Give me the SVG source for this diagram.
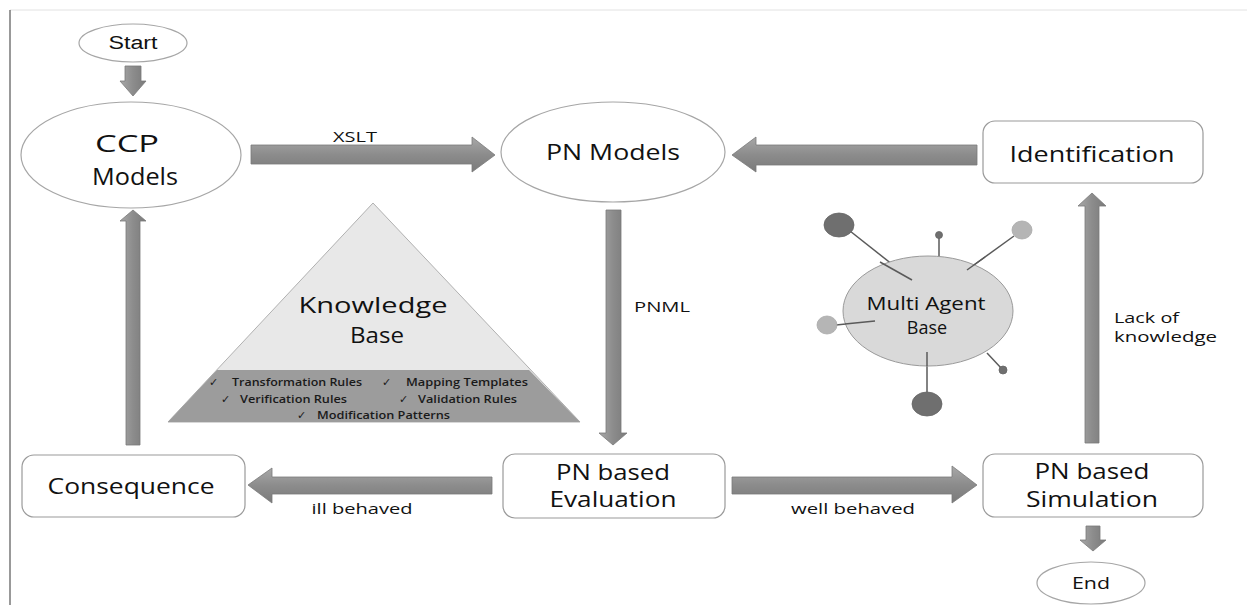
<svg xmlns="http://www.w3.org/2000/svg" width="1247" height="605" viewBox="0 0 1247 605">
  <defs>
    <linearGradient id="gradH" x1="0" y1="0" x2="0" y2="1">
      <stop offset="0" stop-color="#a8a8a8"/>
      <stop offset="0.5" stop-color="#8c8c8c"/>
      <stop offset="1" stop-color="#7a7a7a"/>
    </linearGradient>
    <linearGradient id="gradV" x1="0" y1="0" x2="1" y2="0">
      <stop offset="0" stop-color="#a8a8a8"/>
      <stop offset="0.5" stop-color="#8c8c8c"/>
      <stop offset="1" stop-color="#7a7a7a"/>
    </linearGradient>
  </defs>
  <style>
    .term { fill: #ffffff; stroke: #a6a6a6; stroke-width: 1.2; }
    .box { fill: #ffffff; stroke: #9a9a9a; stroke-width: 1.2; }
    .lbl { font-family: "Open Sans", "DejaVu Sans", sans-serif; font-weight: 500; fill: #111111; text-anchor: middle; }
    .small { font-size: 15px; }
    .left { text-anchor: start; }
    .arrH { fill: url(#gradH); stroke: #7a7a7a; stroke-width: 0.8; }
    .arrV { fill: url(#gradV); stroke: #7a7a7a; stroke-width: 0.8; }
    .kb { font-family: "Open Sans", "DejaVu Sans", sans-serif; font-size: 11px; font-weight: 600; fill: #1a1a1a; }
    .chk { font-family: "DejaVu Sans", sans-serif; font-size: 11px; fill: #1a1a1a; }
    .spoke { stroke: #5a5a5a; stroke-width: 1.5; }
    .dark { fill: #6f6f6f; stroke: #666; stroke-width: 0.8; }
    .light { fill: #b5b5b5; stroke: #aaa; stroke-width: 0.8; }
  </style>

  <rect width="1247" height="605" fill="#ffffff"/>

  <!-- frame edges -->
  <line x1="10" y1="10" x2="1247" y2="10" stroke="#e2e2e2" stroke-width="1"/>
  <line x1="10" y1="10" x2="10" y2="605" stroke="#555555" stroke-width="1.2"/>

  <!-- knowledge base pyramid -->
  <g id="knowledge-base">
    <polygon points="373,203 580,422 168,422" fill="#e8e8e8" stroke="#b0b0b0" stroke-width="1"/>
    <polygon points="217,370 529,370 580,422 168,422" fill="#9c9c9c"/>
    <text class="lbl" x="373" y="313" font-size="22" font-weight="600" textLength="149" lengthAdjust="spacingAndGlyphs">Knowledge</text>
    <text class="lbl" x="377" y="343" font-size="22" font-weight="600" textLength="54" lengthAdjust="spacingAndGlyphs">Base</text>
    <text class="chk" x="209" y="386">✓</text>
    <text class="kb" x="232" y="386" textLength="130" lengthAdjust="spacingAndGlyphs">Transformation Rules</text>
    <text class="chk" x="382" y="386">✓</text>
    <text class="kb" x="406" y="386" textLength="122" lengthAdjust="spacingAndGlyphs">Mapping Templates</text>
    <text class="chk" x="221" y="403">✓</text>
    <text class="kb" x="240" y="403" textLength="107" lengthAdjust="spacingAndGlyphs">Verification Rules</text>
    <text class="chk" x="399" y="403">✓</text>
    <text class="kb" x="418" y="403" textLength="99" lengthAdjust="spacingAndGlyphs">Validation Rules</text>
    <text class="chk" x="297" y="419">✓</text>
    <text class="kb" x="317" y="419" textLength="133" lengthAdjust="spacingAndGlyphs">Modification Patterns</text>
  </g>

  <!-- multi agent base with its agents -->
  <g id="multi-agent-base">
    <line class="spoke" x1="850" y1="231" x2="912" y2="280"/>
    <line class="spoke" x1="939" y1="237" x2="939" y2="257"/>
    <line class="spoke" x1="1014" y1="236" x2="967" y2="270"/>
    <line class="spoke" x1="836" y1="325" x2="875" y2="321"/>
    <line class="spoke" x1="927" y1="350" x2="927" y2="392"/>
    <line class="spoke" x1="987" y1="353" x2="1002" y2="369"/>
    <ellipse cx="928" cy="311" rx="85" ry="55" fill="#d9d9d9" stroke="#9a9a9a" stroke-width="1"/>
    <line class="spoke" x1="880" y1="262" x2="912" y2="280"/>
    <line class="spoke" x1="985" y1="257" x2="967" y2="270"/>
    <line class="spoke" x1="845" y1="324" x2="875" y2="321"/>
    <line class="spoke" x1="927" y1="352" x2="927" y2="366"/>
    <ellipse class="dark" cx="839" cy="225" rx="15" ry="12"/>
    <circle class="dark" cx="939" cy="235" r="3.5"/>
    <ellipse class="light" cx="1022" cy="230" rx="10" ry="9"/>
    <ellipse class="light" cx="827" cy="325" rx="10" ry="9"/>
    <ellipse class="dark" cx="927" cy="404" rx="15" ry="12"/>
    <circle class="dark" cx="1003" cy="370" r="4"/>
    <text class="lbl" x="926" y="310" font-size="18" textLength="119" lengthAdjust="spacingAndGlyphs">Multi Agent</text>
    <text class="lbl" x="927" y="334" font-size="18">Base</text>
  </g>

  <!-- flow arrows -->
  <g id="connectors">
    <!-- Start -> CCP Models -->
    <polygon class="arrV" points="125,66 141,66 141,81 146,81 133,96 120,81 125,81"/>
    <!-- CCP Models -> PN Models (XSLT) -->
    <polygon class="arrH" points="251,145 472,145 472,137 495,155 472,172 472,164 251,164"/>
    <text class="lbl small" x="355" y="142" textLength="44" lengthAdjust="spacingAndGlyphs">XSLT</text>
    <!-- Identification -> PN Models -->
    <polygon class="arrH" points="977,145 756,145 756,137 732,155 756,172 756,165 977,165"/>
    <!-- PN Models -> Evaluation (PNML) -->
    <polygon class="arrV" points="606,210 621,210 621,433 627,433 613,445 599,433 606,433"/>
    <text class="lbl small" x="662" y="312" textLength="56" lengthAdjust="spacingAndGlyphs">PNML</text>
    <!-- Evaluation -> Consequence (ill behaved) -->
    <polygon class="arrH" points="492,477 272,477 272,468 248,485 272,503 272,494 492,494"/>
    <text class="lbl small" x="362" y="514" textLength="101" lengthAdjust="spacingAndGlyphs">ill behaved</text>
    <!-- Evaluation -> Simulation (well behaved) -->
    <polygon class="arrH" points="732,477 952,477 952,466 977,485 952,503 952,494 732,494"/>
    <text class="lbl small" x="853" y="514" textLength="124" lengthAdjust="spacingAndGlyphs">well behaved</text>
    <!-- Consequence -> CCP Models -->
    <polygon class="arrV" points="126,445 140,445 140,221 146,221 133,210 120,221 126,221"/>
    <!-- Simulation -> Identification (Lack of knowledge) -->
    <polygon class="arrV" points="1085,443 1099,443 1099,206 1106,206 1092,193 1078,206 1085,206"/>
    <text class="lbl small left" x="1114" y="323" textLength="65" lengthAdjust="spacingAndGlyphs">Lack of</text>
    <text class="lbl small left" x="1114" y="342" textLength="103" lengthAdjust="spacingAndGlyphs">knowledge</text>
    <!-- Simulation -> End -->
    <polygon class="arrV" points="1086,526 1100,526 1100,540 1106,540 1093,551 1080,540 1086,540"/>
  </g>

  <!-- nodes -->
  <g id="start">
    <ellipse class="term" cx="133" cy="43" rx="54" ry="19"/>
    <text class="lbl" x="133" y="49" font-size="18" textLength="49" lengthAdjust="spacingAndGlyphs" style="font-family:'Liberation Sans', Arial, sans-serif">Start</text>
  </g>
  <g id="ccp-models">
    <ellipse class="term" cx="131" cy="155" rx="110" ry="53"/>
    <text class="lbl" x="127" y="152" font-size="24" textLength="64" lengthAdjust="spacingAndGlyphs">CCP</text>
    <text class="lbl" x="135" y="185" font-size="24" textLength="86" lengthAdjust="spacingAndGlyphs">Models</text>
  </g>
  <g id="pn-models">
    <ellipse class="term" cx="613" cy="152" rx="112" ry="50"/>
    <text class="lbl" x="613" y="160" font-size="22" textLength="134" lengthAdjust="spacingAndGlyphs">PN Models</text>
  </g>
  <g id="identification">
    <rect class="box" x="983" y="121" width="220" height="62" rx="12"/>
    <text class="lbl" x="1092" y="162" font-size="22" textLength="165" lengthAdjust="spacingAndGlyphs">Identification</text>
  </g>
  <g id="consequence">
    <rect class="box" x="22" y="455" width="223" height="62" rx="12"/>
    <text class="lbl" x="131" y="494" font-size="22" textLength="167" lengthAdjust="spacingAndGlyphs">Consequence</text>
  </g>
  <g id="pn-evaluation">
    <rect class="box" x="503" y="454" width="222" height="64" rx="12"/>
    <text class="lbl" x="613" y="480" font-size="21" textLength="114" lengthAdjust="spacingAndGlyphs">PN based</text>
    <text class="lbl" x="613" y="507" font-size="21" textLength="127" lengthAdjust="spacingAndGlyphs">Evaluation</text>
  </g>
  <g id="pn-simulation">
    <rect class="box" x="983" y="454" width="220" height="63" rx="12"/>
    <text class="lbl" x="1092" y="479" font-size="21" textLength="115" lengthAdjust="spacingAndGlyphs">PN based</text>
    <text class="lbl" x="1092" y="507" font-size="21" textLength="132" lengthAdjust="spacingAndGlyphs">Simulation</text>
  </g>
  <g id="end">
    <ellipse class="term" cx="1091" cy="583" rx="54" ry="21"/>
    <text class="lbl" x="1091" y="589" font-size="17" textLength="38" lengthAdjust="spacingAndGlyphs">End</text>
  </g>
</svg>
